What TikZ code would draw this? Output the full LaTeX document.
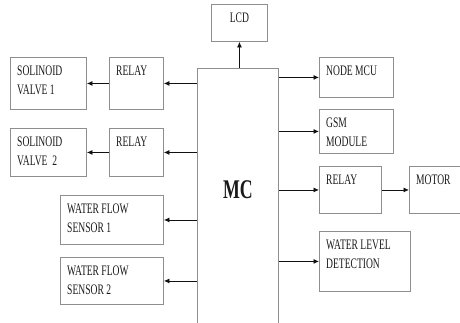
\documentclass[tikz,border=0pt]{standalone}
\usepackage{fontspec}
\setmainfont[FakeStretch=0.66]{Liberation Serif}
\usetikzlibrary{arrows.meta, positioning}
\definecolor{boxLine}{HTML}{8E8E8E}
\definecolor{boxText}{HTML}{1A1A1A}
\definecolor{arrowBlack}{HTML}{111111}

\begin{document}
\begin{tikzpicture}[
  x=1pt, y=-1pt,
  blk/.style  ={draw=boxLine, line width=0.9pt, inner sep=0pt, anchor=north west},
  lbl/.style  ={anchor=north west, align=left, inner xsep=7pt, inner ysep=9pt,
                text=boxText, font=\fontsize{14.5}{19}\selectfont},
  toplbl/.style ={anchor=north, inner sep=0pt, yshift=-9pt,
                text=boxText, font=\fontsize{14.5}{19}\selectfont},
  mclbl/.style={inner sep=0pt, yshift=15pt, text=boxText,
                font=\fontsize{27}{30}\selectfont\bfseries},
  flow/.style ={-{Latex[length=5.5pt, width=5pt]}, draw=arrowBlack, line width=0.8pt},
]
\clip (0,0) rectangle (460,322);

% ----- Controller -----
\node[blk, minimum width=81, minimum height=272,
      label={[mclbl]center:MC}] (MC) at (197,68) {};
\node[blk, minimum width=56, minimum height=37,
      label={[toplbl]north:LCD}] (LCD) at (211,4) {};

% ----- Left side: valves and sensors -----
\node[blk, minimum width=76, minimum height=52,
      label={[lbl]north west:SOLINOID\\VALVE 1}] (SV1) at (10,57) {};
\node[blk, minimum width=54, minimum height=52,
      label={[lbl]north west:RELAY}] (RLY1) at (109,57) {};
\node[blk, minimum width=76, minimum height=48,
      label={[lbl]north west:SOLINOID\\VALVE\ \ 2}] (SV2) at (10,128) {};
\node[blk, minimum width=54, minimum height=48,
      label={[lbl]north west:RELAY}] (RLY2) at (109,128) {};
\node[blk, minimum width=103, minimum height=49,
      label={[lbl]north west:WATER FLOW\\SENSOR 1}] (WFS1) at (60,195) {};
\node[blk, minimum width=103, minimum height=47,
      label={[lbl]north west:WATER FLOW\\SENSOR 2}] (WFS2) at (60,257) {};

% ----- Right side: outputs -----
\node[blk, minimum width=74, minimum height=40,
      label={[lbl]north west:NODE MCU}] (NMCU) at (319,57) {};
\node[blk, minimum width=74, minimum height=44,
      label={[lbl]north west:GSM\\MODULE}] (GSM) at (319,109) {};
\node[blk, minimum width=62, minimum height=47,
      label={[lbl]north west:RELAY}] (RLY3) at (319,166) {};
\node[blk, minimum width=60, minimum height=47,
      label={[lbl]north west:MOTOR}] (MOT) at (409,166) {};
\node[blk, minimum width=91, minimum height=60,
      label={[lbl]north west:WATER LEVEL\\DETECTION}] (WLD) at (319,231) {};

% ----- Arrows -----
\draw[flow] (LCD.south |- MC.north) -- (LCD.south);
\draw[flow] (RLY1.west) -- (SV1.east);
\draw[flow] (RLY2.west) -- (SV2.east);
\draw[flow] (MC.west |- RLY1.east) -- (RLY1.east);
\draw[flow] (MC.west |- RLY2.east) -- (RLY2.east);
\draw[flow] (MC.west |- WFS1.east) -- (WFS1.east);
\draw[flow] (MC.west |- WFS2.east) -- (WFS2.east);
\draw[flow] (MC.east |- NMCU.west) -- (NMCU.west);
\draw[flow] (MC.east |- GSM.west)  -- (GSM.west);
\draw[flow] (MC.east |- RLY3.west) -- (RLY3.west);
\draw[flow] (RLY3.east) -- (MOT.west);
\draw[flow] (MC.east |- WLD.west)  -- (WLD.west);

\end{tikzpicture}
\end{document}
